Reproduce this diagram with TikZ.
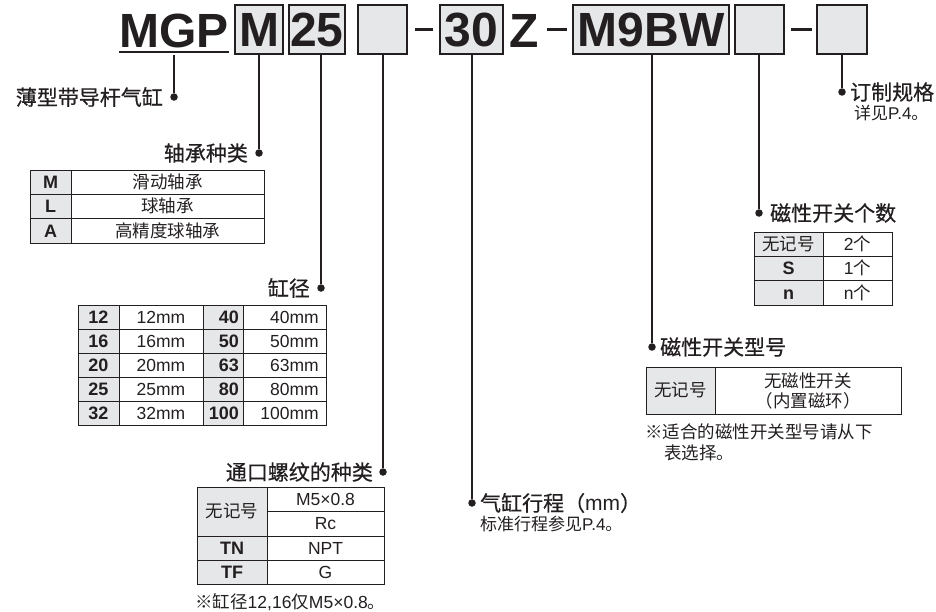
\documentclass[tikz,border=0pt]{standalone}
\usepackage{fontspec}
\setmainfont{Liberation Sans}
\newfontfamily\cjk{Noto Sans CJK SC}
\newfontfamily\cjkh[FakeBold=0.6]{Noto Sans CJK SC}
\usetikzlibrary{positioning}
\definecolor{ink}{HTML}{231F20}
\definecolor{cellgray}{HTML}{E6E7E8}

\begin{document}
\begin{tikzpicture}[x=1pt, y=-1pt, color=ink,
    code/.style={font=\fontsize{48}{48}\selectfont\bfseries, inner sep=0pt},
    codebox/.style={code, draw, fill=cellgray, line width=1.4pt, text height=34.4pt, text depth=0pt, inner ysep=7.3pt, inner xsep=0pt},
    lead/.style={line width=1.3pt},
    dot/.style={circle, fill, inner sep=0pt, minimum size=7.5pt},
    head/.style={font=\fontsize{21}{21}\selectfont\cjkh, inner sep=0pt},
    sub/.style={font=\fontsize{17}{17}\selectfont, inner sep=0pt},
    grid/.style={line width=0.9pt},
    cell/.style={font=\fontsize{17.5}{20}\selectfont, anchor=base, yshift=-6.3pt, inner sep=0pt},
    key/.style={cell, font=\fontsize{18}{20}\selectfont\bfseries},
    note/.style={font=\fontsize{17.5}{21}\selectfont\cjk, anchor=west, inner sep=0pt}]
    \useasboundingbox (0,0) rectangle (936,611);

    % model code
    \node[code, anchor=base west] (mgp) at (119,47.5) {MGP};
    \draw[line width=1.6pt] ([yshift=-4.5pt]mgp.base west) -- ([yshift=-4.5pt]mgp.base east);
    \node[codebox, minimum width=48pt] (bM) at (259,29.5) {M};
    \node[codebox, minimum width=56pt] (b25) at (317,29.5) {25};
    \node[codebox, minimum width=49pt] (bPort) at (382.5,29.5) {};
    \node[codebox, minimum width=63pt] (b30) at (471.5,29.5) {30};
    \node[code, anchor=base west] (z) at (509,47.5) {Z};
    \node[codebox, minimum width=156pt] (bSW) at (651,29.5) {M9BW};
    \node[codebox, minimum width=49pt] (bNum) at (759.5,29.5) {};
    \node[codebox, minimum width=50pt] (bOpt) at (842,29.5) {};
    \draw[line width=3pt] (415,29) -- (433,29) (547,29) -- (567,29) (791,29) -- (812,29);

    % dots and leads
    \node[dot] (dMGP) at (174,97) {};
    \node[dot] (dM) at (259,153) {};
    \node[dot] (d25) at (321,288) {};
    \node[dot] (dPort) at (383,472) {};
    \node[dot] (dStroke) at (472,503) {};
    \node[dot] (dSW) at (652,347) {};
    \node[dot] (dNum) at (759,213) {};
    \node[dot] (dOpt) at (842,92) {};
    \coordinate (mgpfoot) at (174,55);
    \draw[lead] (mgpfoot) -- (dMGP);
    \draw[lead] (bM.south) -- (dM);
    \draw[lead] (d25 |- b25.south) -- (d25);
    \draw[lead] (dPort |- bPort.south) -- (dPort);
    \draw[lead] (dStroke |- b30.south) -- (dStroke);
    \draw[lead] (dSW |- bSW.south) -- (dSW);
    \draw[lead] (dNum |- bNum.south) -- (dNum);
    \draw[lead] (bOpt.south) -- (dOpt);

    % labels
    \node[head, left=7pt of dMGP] (lMGP) {薄型带导杆气缸};
    \node[head, left=7pt of dM] (lM) {轴承种类};
    \node[head, left=7pt of d25] (l25) {缸径};
    \node[head, left=6pt of dPort] (lPort) {通口螺纹的种类};
    \node[head, right=4pt of dStroke] (lStroke) {气缸行程（{\rmfamily mm}）};
    \node[head, right=4pt of dSW] (lSW) {磁性开关型号};
    \node[head, right=7pt of dNum] (lNum) {磁性开关个数};
    \node[head, right=4pt of dOpt] (lOpt) {订制规格};
    \node[sub, anchor=north west] (sStroke) at ([yshift=-3pt]lStroke.south west) {{\cjk 标准行程参见}P.4{\cjk 。}};
    \node[sub, anchor=north west] (sOpt) at ([xshift=4pt, yshift=-3pt]lOpt.south west) {{\cjk 详见}P.4{\cjk 。}};

    % bearing table
    \fill[cellgray] (30,170) rectangle (71,243);
    \draw[grid] (30,170) rectangle (264,243) (71,170) -- (71,243)
        (30,194.3) -- (264,194.3) (30,218.7) -- (264,218.7);
    \foreach \k/\v [count=\i] in {M/滑动轴承, L/球轴承, A/高精度球轴承} {
        \node[key] (brgk\i) at (50.5,{170+24.33*(\i-0.5)}) {\k};
        \node[cell] (brgv\i) at (167.5,{170+24.33*(\i-0.5)}) {\cjk\v};
    }

    % bore table
    \fill[cellgray] (78,305) rectangle (119,425) (203,305) rectangle (243,425);
    \draw[grid] (78,305) rectangle (326,425);
    \foreach \x in {119,203,243} \draw[grid] (\x,305) -- (\x,425);
    \foreach \y in {329,353,377,401} \draw[grid] (78,\y) -- (326,\y);
    \foreach \a/\b [count=\i] in {12/40,16/50,20/63,25/80,32/100} {
        \node[key] (borea\i) at (98.5,{305+24*(\i-0.5)}) {\a};
        \node[cell] (boream\i) at (161,{305+24*(\i-0.5)}) {\a mm};
        \node[key, anchor=base east] (boreb\i) at (239,{305+24*(\i-0.5)}) {\b};
        \node[cell, anchor=base east] (borebm\i) at (319,{305+24*(\i-0.5)}) {\b mm};
    }

    % port table
    \fill[cellgray] (197,487) rectangle (267,584);
    \draw[grid] (197,487) rectangle (384,584) (267,487) -- (267,584)
        (267,511) -- (384,511) (197,536) -- (384,536) (197,560) -- (384,560);
    \node[cell] (portk1) at (232,511) {\cjk 无记号};
    \node[cell] (portv1) at (325.5,499) {M5×0.8};
    \node[cell] (portv2) at (325.5,523.5) {Rc};
    \node[key] (portk3) at (232,548) {TN};
    \node[cell] (portv3) at (325.5,548) {NPT};
    \node[key] (portk4) at (232,572) {TF};
    \node[cell] (portv4) at (325.5,572) {G};
    \node[note] (portnote) at (195,602) {※缸径{\rmfamily 12,16}仅{\rmfamily M5×0.8}。};

    % switch table
    \fill[cellgray] (646,367) rectangle (715,414);
    \draw[grid] (646,367) rectangle (901,414) (715,367) -- (715,414);
    \node[cell] (swk) at (680.5,390.5) {\cjk 无记号};
    \node[font=\fontsize{17.5}{20}\selectfont\cjk, align=center, inner sep=0pt] (swv) at (808,391) {无磁性开关\\（内置磁环）};
    \node[note] (swnote1) at (645,432) {※适合的磁性开关型号请从下};
    \node[note] (swnote2) at (664,453) {表选择。};

    % switch count table
    \fill[cellgray] (754,232) rectangle (823,305);
    \draw[grid] (754,232) rectangle (892,305) (823,232) -- (823,305)
        (754,256.3) -- (892,256.3) (754,280.7) -- (892,280.7);
    \node[cell] (numk1) at (788.5,244.2) {\cjk 无记号};
    \node[cell] (numv1) at (857.5,244.2) {2{\cjk 个}};
    \node[key] (numk2) at (788.5,268.5) {S};
    \node[cell] (numv2) at (857.5,268.5) {1{\cjk 个}};
    \node[key] (numk3) at (788.5,292.8) {n};
    \node[cell] (numv3) at (857.5,292.8) {n{\cjk 个}};
\end{tikzpicture}
\end{document}
